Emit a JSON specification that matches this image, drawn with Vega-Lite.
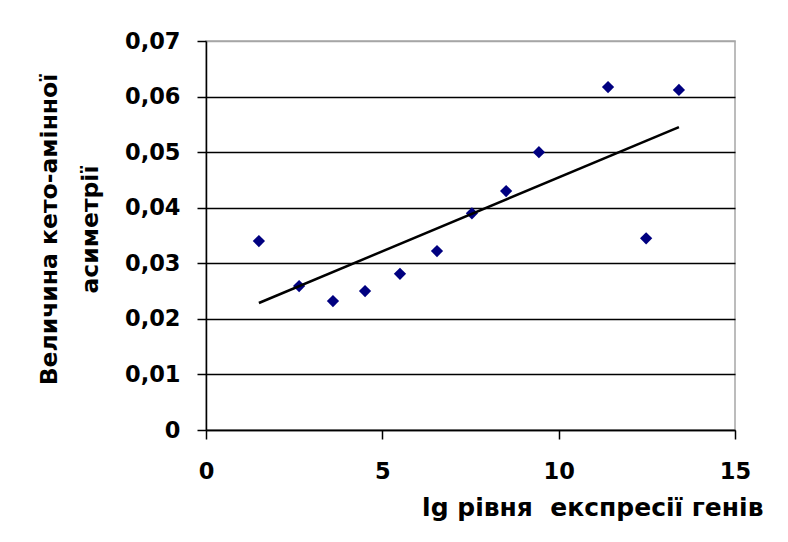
{
  "$schema": "https://vega.github.io/schema/vega-lite/v6.json",
  "width": 529,
  "height": 389,
  "autosize": "none",
  "padding": {"left": 206, "top": 41, "right": 53, "bottom": 112},
  "background": "white",
  "data": {
    "values": [
      {"x": 1.5, "y": 0.034},
      {"x": 2.64, "y": 0.0259},
      {"x": 3.6, "y": 0.0232},
      {"x": 4.51, "y": 0.025},
      {"x": 5.5, "y": 0.0281},
      {"x": 6.55, "y": 0.0322},
      {"x": 7.54, "y": 0.039},
      {"x": 8.51, "y": 0.043},
      {"x": 9.44, "y": 0.05},
      {"x": 11.4, "y": 0.0617},
      {"x": 12.48, "y": 0.0345},
      {"x": 13.41, "y": 0.0612}
    ]
  },
  "encoding": {
    "x": {
      "field": "x",
      "type": "quantitative",
      "scale": {"domain": [0, 15], "nice": false, "zero": false},
      "axis": {
        "values": [0, 5, 10, 15],
        "grid": false,
        "title": "lg рівня \u00a0експресії генів",
        "titleX": 557,
        "titleY": 85,
        "titleAlign": "right",
        "titleBaseline": "alphabetic",
        "titleAnchor": "end",
        "titleFontSize": 25,
        "labelPadding": 21,
        "format": "d"
      }
    },
    "y": {
      "field": "y",
      "type": "quantitative",
      "scale": {"domain": [0, 0.07], "nice": false},
      "axis": {
        "values": [0, 0.01, 0.02, 0.03, 0.04, 0.05, 0.06, 0.07],
        "format": ".2f",
        "labelExpr": "replace(format(datum.value, '.2f'), '.', ',') == '0,00' ? '0' : replace(format(datum.value, '.2f'), '.', ',')",
        "grid": true,
        "gridColor": {"condition": {"test": "datum.value > 0.0695", "value": "#a6a6a6"}, "value": "black"},
        "title": ["Величина кето-амінної", "асиметрії"],
        "titleAngle": -90,
        "titleX": -157,
        "titleY": 188,
        "titleAlign": "center",
        "titleBaseline": "middle",
        "titleLineHeight": 41,
        "titleFontSize": 23.5,
        "labelPadding": 17
      }
    }
  },
  "layer": [
    {
      "mark": {"type": "point", "shape": "diamond", "filled": true, "size": 150, "color": "#000080", "opacity": 1}
    },
    {
      "transform": [{"regression": "y", "on": "x"}],
      "mark": {"type": "line", "color": "black", "strokeWidth": 2.5}
    }
  ],
  "config": {
    "view": {"stroke": "#a6a6a6", "strokeWidth": 1.5},
    "axis": {
      "labelFont": "DejaVu Sans",
      "labelFontWeight": "bold",
      "labelFontSize": 22.5,
      "labelColor": "black",
      "titleFont": "DejaVu Sans",
      "titleFontWeight": "bold",
      "titleColor": "black",
      "domainColor": "black",
      "domainWidth": 1.5,
      "tickColor": "black",
      "tickWidth": 1.5,
      "tickSize": 9,
      "gridWidth": 1.5,
      "labelFlush": false,
      "labelOverlap": false
    }
  }
}
